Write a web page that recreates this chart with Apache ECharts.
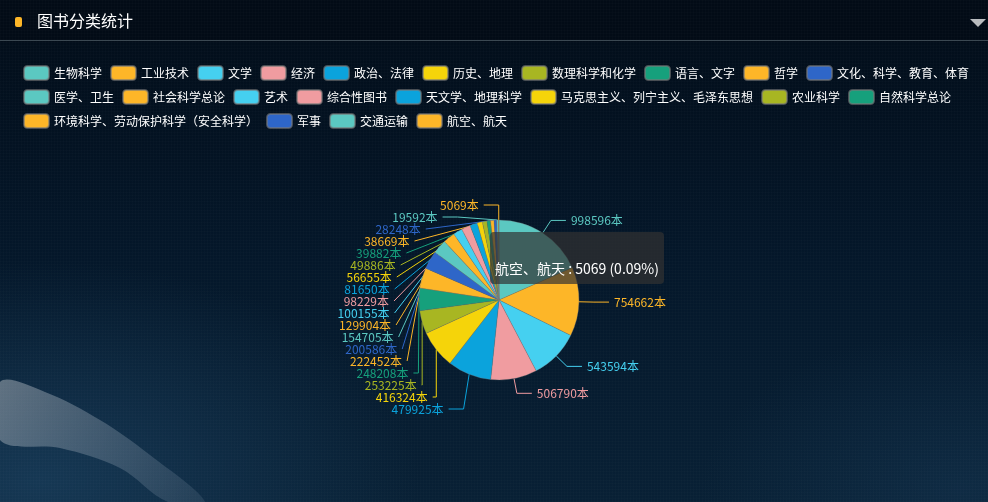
<!DOCTYPE html>
<html>
<head>
<meta charset="utf-8">
<script src="https://cdn.jsdelivr.net/npm/echarts@6/dist/echarts.min.js"></script>
<style>
html,body{margin:0;padding:0;width:988px;height:502px;overflow:hidden;}
#bg{position:absolute;left:0;top:0;width:988px;height:502px;
background:
 repeating-linear-gradient(90deg, rgba(255,255,255,0.012) 0 1px, transparent 1px 3px),
 repeating-linear-gradient(0deg, rgba(255,255,255,0.012) 0 1px, transparent 1px 3px),
 radial-gradient(ellipse 380px 220px at 40px 480px, rgba(35,80,115,0.5), rgba(0,0,0,0) 100%),
 radial-gradient(ellipse 260px 160px at 960px 490px, rgba(25,60,90,0.4), rgba(0,0,0,0) 100%),
 linear-gradient(180deg, #020b16 0px, #020b16 41px, #020e1b 42px, #04172a 260px, #082035 502px);}
#main{position:absolute;left:0;top:0;width:988px;height:502px;}
</style>
</head>
<body>
<div id="bg"></div>
<div id="main"></div>
<script>
var categories = ['生物科学','工业技术','文学','经济','政治、法律','历史、地理','数理科学和化学','语言、文字','哲学','文化、科学、教育、体育','医学、卫生','社会科学总论','艺术','综合性图书','天文学、地理科学','马克思主义、列宁主义、毛泽东思想','农业科学','自然科学总论','环境科学、劳动保护科学（安全科学）','军事','交通运输','航空、航天'];
var bookCounts = [998596,754662,543594,506790,479925,416324,253225,248208,222452,200586,154705,129904,100155,98229,81650,56655,49886,39882,38669,28248,19592,5069];
var palette = ['#5bc8c1','#fdb628','#45d0f0','#f09ca0','#0ba3dc','#f5d40a','#a8b622','#16a07c','#fdb628','#2e66c8'];

var chart = echarts.init(document.getElementById('main'), null, {renderer:'canvas'});
var pieData = categories.map(function(n,i){
  return {name:n, value:bookCounts[i], label:{color:palette[i % palette.length]}};
});
var font = '"Noto Sans CJK SC", "Microsoft YaHei", sans-serif';
chart.setOption({
  animation:false,
  color: palette,
  textStyle:{fontFamily:font},
  tooltip:{
    trigger:'item',
    triggerOn:'none',
    alwaysShowContent:true,
    position:[490,232],
    formatter:'{a} <br/>{b} : {c} ({d}%)',
    backgroundColor:'rgba(50,50,50,0.7)',
    borderWidth:0,
    padding:[5,5],
    textStyle:{color:'#fff',fontSize:14,fontFamily:font},
    extraCssText:'line-height:21px;border-radius:4px;box-shadow:none;'
  },
  legend:{
    left:23, top:65, right:0, padding:0,
    itemWidth:25, itemHeight:14, itemGap:8,
    icon:'roundRect',
    textStyle:{color:'#fff',fontSize:12,fontFamily:font},
    data:categories
  },
  graphic:[
    {type:'polygon', silent:true, shape:{smooth:0.35, points:[[0,382],[45,392],[100,420],[150,455],[205,502],[168,502],[120,468],[60,448],[0,440]]},
     style:{fill:{type:'linear',x:0,y:0,x2:1,y2:1,colorStops:[{offset:0,color:'rgba(200,205,210,0.45)'},{offset:0.6,color:'rgba(150,165,180,0.3)'},{offset:1,color:'rgba(120,140,160,0.18)'}]}}},
    {type:'rect', shape:{x:15,y:17,width:7,height:10,r:2}, style:{fill:'#fdb628'}},
    {type:'text', x:37, y:21, style:{text:'图书分类统计', fill:'#fff', fontSize:16, fontFamily:font, verticalAlign:'middle'}},
    {type:'polygon', shape:{points:[[970,19],[986,19],[978,27]]}, style:{fill:'#b9bcbf'}},
    {type:'rect', shape:{x:0,y:40,width:988,height:1}, style:{fill:'#3b4852'}}
  ],
  series:[{
    name:'',
    type:'pie',
    center:[499,300],
    radius:80,
    startAngle:90,
    data:pieData,
    itemStyle:{borderColor:'rgba(120,120,120,0.6)', borderWidth:0.5},
    label:{show:true, formatter:'{c}本', fontSize:12, lineHeight:11, minMargin:0, fontFamily:font, textBorderWidth:0},
    labelLine:{length:15, length2:15, lineStyle:{width:1}},
    emphasis:{disabled:true}
  }]
});
chart.dispatchAction({type:'showTip', seriesIndex:0, dataIndex:21});
</script>
</body>
</html>
